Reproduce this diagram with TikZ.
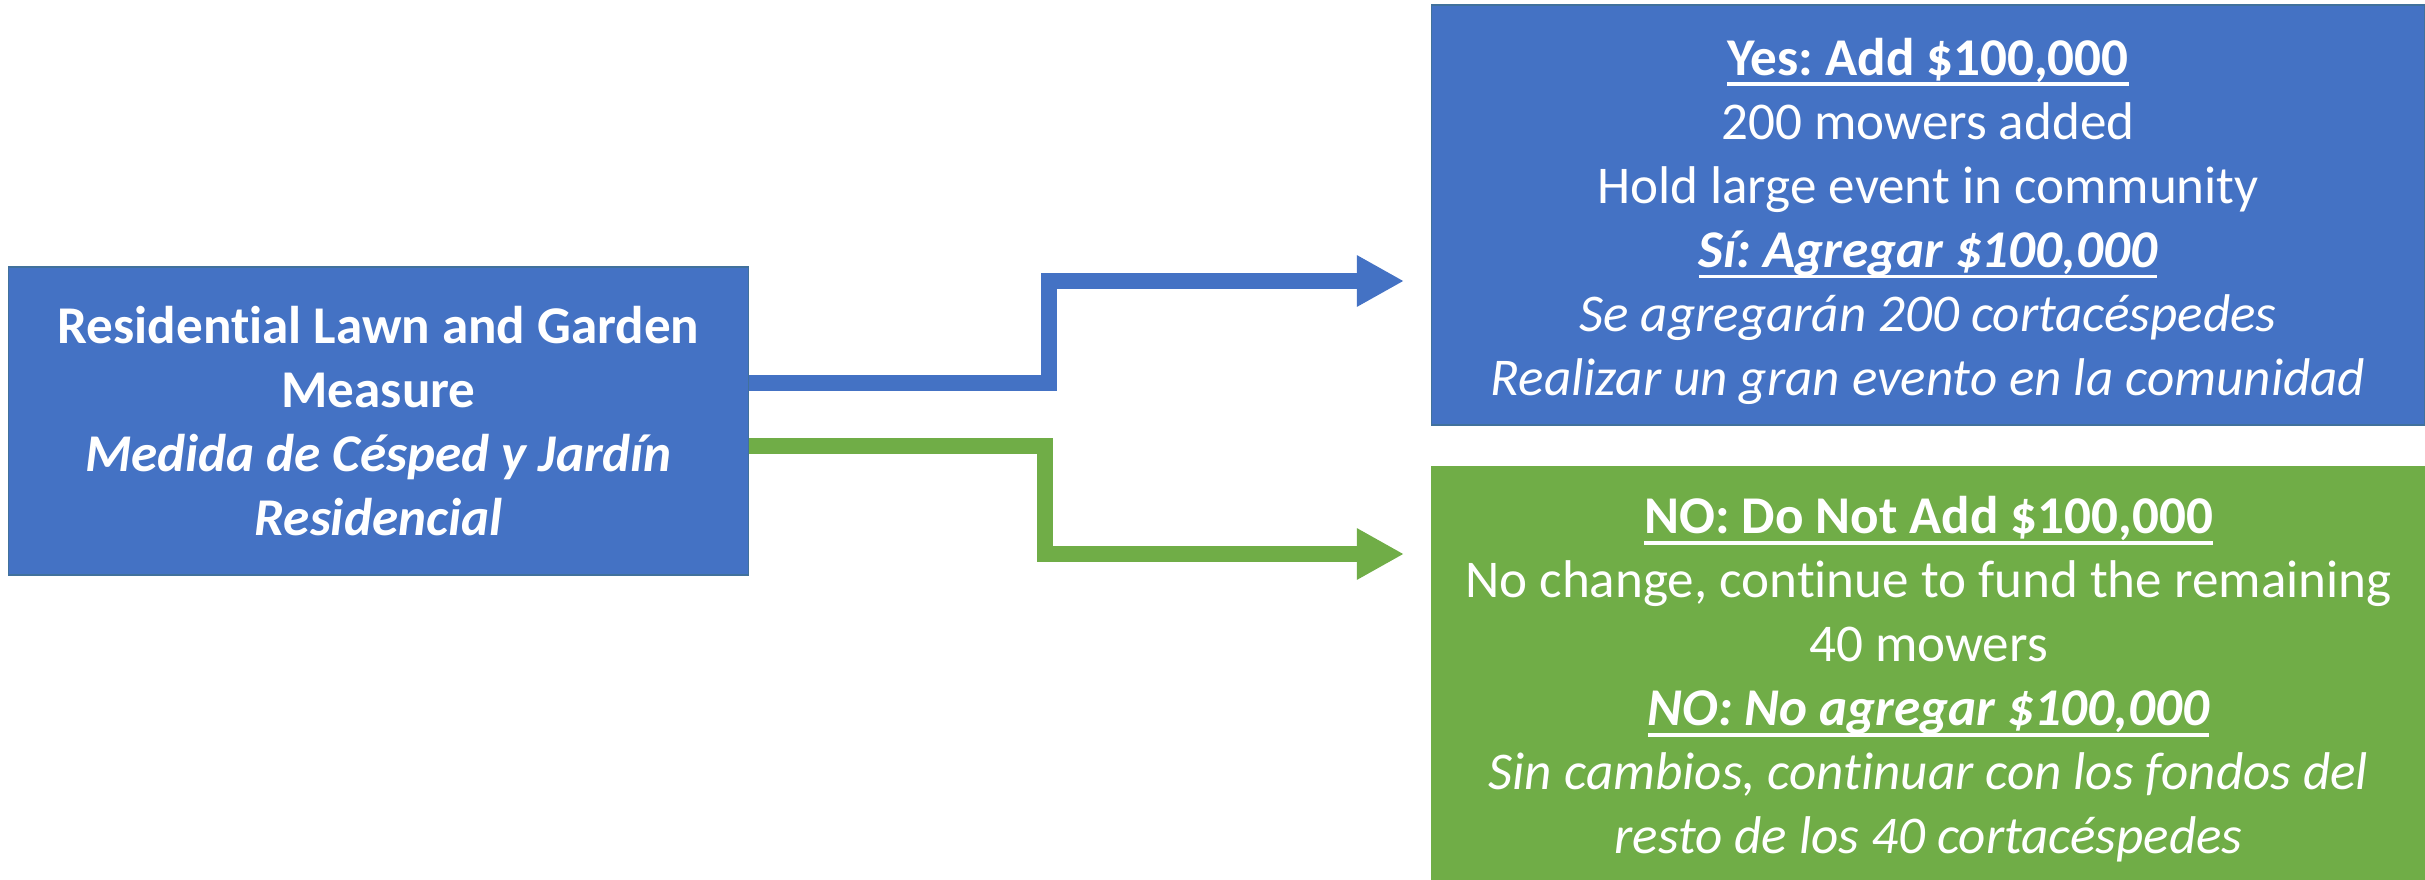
\documentclass[tikz,border=0pt]{standalone}
\usepackage{fontspec}
\setmainfont{Carlito}[Ligatures=NoCommon]
\usetikzlibrary{arrows.meta, positioning}
\definecolor{lawnblue}{HTML}{4472C4}
\definecolor{lawnedge}{HTML}{41719C}
\definecolor{lawngreen}{HTML}{70AD47}
\newcommand{\ulin}[1]{\setbox0\hbox{#1}\rlap{\rule[-3.1pt]{\wd0}{1.1pt}}\box0}
\newcommand{\topgap}{\rule{0pt}{0.5cm}}
\frenchspacing

\begin{document}
\begin{tikzpicture}[x=0.01cm, y=-0.01cm,
	box/.style={draw=lawnedge, line width=0.4pt, text=white, align=center, inner sep=0pt,
		font=\fontsize{15.1}{18.2}\selectfont},
	link/.style={line width=0.16cm, -{Triangle[length=0.47cm, width=0.48cm]}}]
	\useasboundingbox (0,0) rectangle (2425,879);
	\node[box, fill=lawnblue, minimum width=7.39cm, minimum height=3.08cm] (lawn) at (378.5,421)
		{\textbf{Residential Lawn and Garden}\\ \textbf{Measure}\\
		 \textbf{\textit{Medida de Césped y Jardín}}\\ \textbf{\textit{Residencial}}};
	\node[box, fill=lawnblue, minimum width=9.92cm, minimum height=4.2cm] (yes) at (1928,215)
		{\topgap\textbf{\ulin{Yes: Add \$100,000}}\\ 200 mowers added\\ Hold large event in community\\
		 \textbf{\textit{\ulin{Sí: Agregar \$100,000}}}\\ \textit{Se agregarán 200 cortacéspedes}\\
		 \textit{Realizar un gran evento en la comunidad}};
	\node[box, draw=lawngreen, fill=lawngreen, minimum width=9.93cm, minimum height=4.12cm] (no) at (1928.5,673)
		{\topgap\textbf{\ulin{NO: Do Not Add \$100,000}}\\ No change, continue to fund the remaining\\ 40 mowers\\
		 \textbf{\textit{\ulin{NO: No agregar \$100,000}}}\\ \textit{Sin cambios, continuar con los fondos del}\\
		 \textit{resto de los 40 cortacéspedes}};
	\coordinate (yesin) at (1404,281);
	\coordinate (noin) at (1404,554);
	\draw[link, lawnblue] ([yshift=0.38cm]lawn.east) -- ++(300,0) |- (yesin);
	\draw[link, lawngreen] ([yshift=-0.25cm]lawn.east) -- ++(296,0) |- (noin);
\end{tikzpicture}
\end{document}
